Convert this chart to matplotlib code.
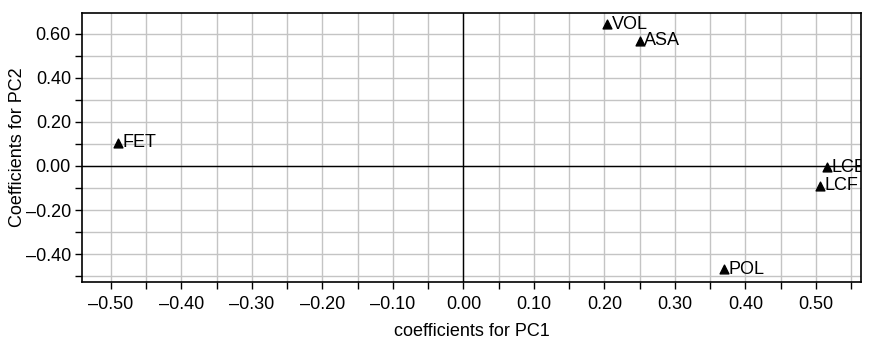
import matplotlib
matplotlib.use("Agg")
import matplotlib.pyplot as plt
import numpy as np
from matplotlib.ticker import MultipleLocator, FuncFormatter

labels = ["FET", "VOL", "ASA", "LCE", "LCF", "POL"]
pc1 = [-0.49, 0.204, 0.25, 0.516, 0.506, 0.37]
pc2 = [0.105, 0.645, 0.568, -0.005, -0.09, -0.468]

plt.rcParams['font.family'] = ['Liberation Sans', 'DejaVu Sans']
fig = plt.figure(figsize=(8.69, 3.45), dpi=100)
ax = fig.add_axes([82/869, 1-282/345, (861-82)/869, (282-13)/345])

ax.set_xlim(-0.541, 0.564)
ax.set_ylim(-0.527, 0.695)

ax.xaxis.set_major_locator(MultipleLocator(0.1))
ax.xaxis.set_minor_locator(MultipleLocator(0.05))
ax.yaxis.set_major_locator(MultipleLocator(0.2))
ax.yaxis.set_minor_locator(MultipleLocator(0.1))
fmt = FuncFormatter(lambda v, p: ("\u2013%.2f" % abs(v)) if v < -1e-9 else "%.2f" % abs(v))
ax.xaxis.set_major_formatter(fmt)
ax.yaxis.set_major_formatter(fmt)

ax.grid(True, which='both', color='#c4c4c4', linewidth=1.0)
ax.set_axisbelow(True)
ax.axhline(0, color='black', lw=1.0, zorder=2)
ax.axvline(0, color='black', lw=1.0, zorder=2)

ax.scatter(pc1, pc2, marker='^', s=40, color='black', zorder=3)
for x, y, t in zip(pc1, pc2, labels):
    ax.text(x + 0.006, y, t, fontsize=13, va='center', ha='left', zorder=4, clip_on=True)

for s in ax.spines.values():
    s.set_color('black')
    s.set_linewidth(1.2)
ax.tick_params(which='both', direction='out', length=5, width=1, labelsize=13, color='black')
ax.tick_params(axis='x', pad=5)
ax.tick_params(axis='y', pad=3)
ax.set_xlabel("coefficients for PC1", fontsize=13, labelpad=7)
ax.set_ylabel("Coefficients for PC2", fontsize=13)
ax.yaxis.set_label_coords(-0.072, 0.5)

fig.savefig("out.png", dpi=100)
